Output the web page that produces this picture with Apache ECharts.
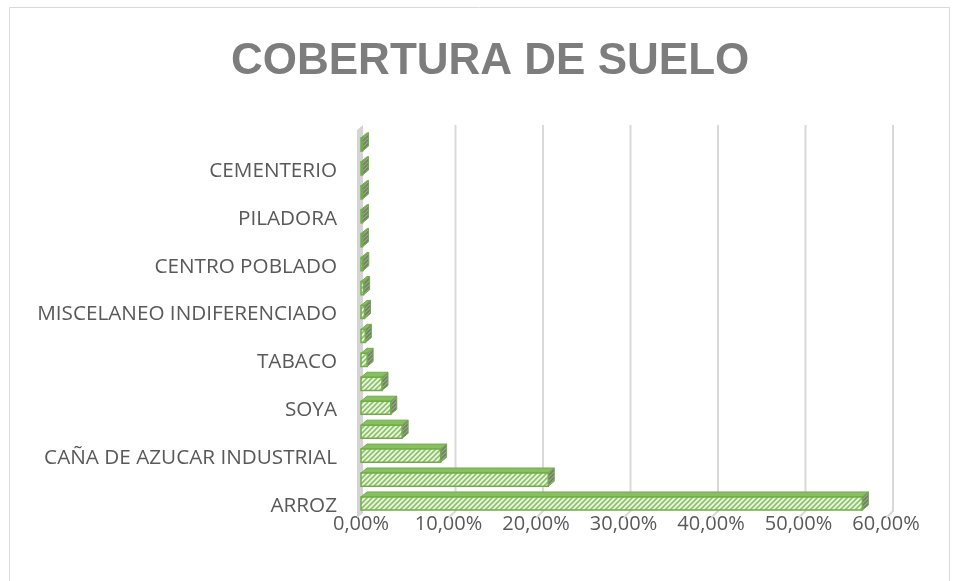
<!DOCTYPE html>
<html>
<head>
<meta charset="utf-8">
<script src="https://cdn.jsdelivr.net/npm/echarts@6/dist/echarts.min.js"></script>
<style>
  html, body { margin: 0; padding: 0; background: #fff; }
  #container { width: 957px; height: 581px; }
</style>
</head>
<body>
<div id="container"></div>
<script>
// categories, bottom to top (only every other one carries a visible label)
var categorias = ['ARROZ', 'PASTOS', 'CAÑA DE AZUCAR INDUSTRIAL', 'MAIZ', 'SOYA', 'FRUTALES',
  'TABACO', 'CUERPO DE AGUA', 'MISCELANEO INDIFERENCIADO', 'VIAS', 'CENTRO POBLADO',
  'GALPONES', 'PILADORA', 'PLATANO', 'CEMENTERIO', 'ESCUELA'];
// percentages
var porcentajes = [57.3, 21.4, 9.1, 4.7, 3.4, 2.4, 0.7, 0.5, 0.4, 0.3, 0.2, 0.1, 0.1, 0.1, 0.1, 0.1];
var ticks = [0, 10, 20, 30, 40, 50, 60];

// hatch pattern for the bar faces
function hatch(bg, fg, size) {
  var c = document.createElement('canvas');
  c.width = size; c.height = size;
  var g = c.getContext('2d');
  g.fillStyle = bg;
  g.fillRect(0, 0, size, size);
  g.strokeStyle = fg;
  g.lineWidth = 1.6;
  g.beginPath();
  g.moveTo(-1, size + 1); g.lineTo(size + 1, -1);
  g.moveTo(-1, 1); g.lineTo(1, -1);
  g.moveTo(size - 1, size + 1); g.lineTo(size + 1, size - 1);
  g.stroke();
  return c;
}
var frontPat = { image: hatch('#eaf4e2', '#8cc167', 5), repeat: 'repeat' };
var sidePat = { image: hatch('#9aa68f', '#6e8160', 4), repeat: 'repeat' };

var dom = document.getElementById('container');
var myChart = echarts.init(dom);

function renderGrid(params, api) {
  var cs = params.coordSys;
  var v = api.value(0);
  var x = api.coord([v, 0])[0];
  var top = cs.y, bot = cs.y + cs.height;
  if (v === 0) {
    return {
      type: 'polygon',
      shape: { points: [[x - 4, top - 1], [x + 2, top - 6], [x + 2, bot - 1], [x - 4, bot + 4]] },
      style: { fill: '#d4d4d4', stroke: null }
    };
  }
  return {
    type: 'polyline',
    shape: { points: [[x + 7, top - 6], [x + 7, bot - 3], [x, bot + 4]] },
    style: { stroke: '#d9d9d9', lineWidth: 2, fill: null }
  };
}

function renderBar(params, api) {
  var v = api.value(0), idx = api.value(1);
  var p0 = api.coord([0, idx]);
  var p1 = api.coord([v, idx]);
  var bh = api.size([0, 1])[1] * 0.55;
  var x = p0[0], w = Math.max(p1[0] - p0[0], 1.5), y = p0[1] - bh / 2 + 1.5;
  var dx = 6, dy = -5;
  return {
    type: 'group',
    children: [
      {
        type: 'polygon',
        shape: { points: [[x, y], [x + w, y], [x + w + dx, y + dy], [x + dx, y + dy]] },
        style: { fill: '#88bf63', stroke: '#70ad47', lineWidth: 1 }
      },
      {
        type: 'polygon',
        shape: { points: [[x + w, y], [x + w + dx, y + dy], [x + w + dx, y + dy + bh], [x + w, y + bh]] },
        style: { fill: sidePat, stroke: '#70ad47', lineWidth: 1 }
      },
      {
        type: 'rect',
        shape: { x: x, y: y, width: w, height: bh },
        style: { fill: frontPat, stroke: '#70ad47', lineWidth: 1.5 }
      }
    ]
  };
}

var option = {
  backgroundColor: '#fff',
  animation: false,
  title: {
    text: 'COBERTURA DE SUELO',
    left: 226,
    top: 35,
    textStyle: {
      fontFamily: 'Liberation Sans',
      fontWeight: 'bold',
      fontSize: 44,
      lineHeight: 44,
      color: '#7d7d7d'
    }
  },
  graphic: [{
    type: 'rect',
    shape: { x: 9.5, y: 7.5, width: 940, height: 580 },
    style: { fill: null, stroke: '#d9d9d9', lineWidth: 1 },
    silent: true
  }],
  grid: { left: 361, right: 71, top: 131, bottom: 67 },
  xAxis: {
    type: 'value',
    min: 0,
    max: 60,
    interval: 10,
    axisLine: { show: false },
    axisTick: { show: false },
    splitLine: { show: false },
    axisLabel: {
      margin: 0,
      fontFamily: 'Open Sans',
      fontSize: 20,
      color: '#595959',
      formatter: function (v) { return v.toFixed(2).replace('.', ',') + '%'; }
    }
  },
  yAxis: {
    type: 'category',
    data: categorias,
    axisLine: { show: false },
    axisTick: { show: false },
    splitLine: { show: false },
    axisLabel: {
      interval: 1,
      margin: 24,
      verticalAlign: 'top',
      lineHeight: 8,
      fontFamily: 'Open Sans',
      fontSize: 20.7,
      color: '#595959'
    }
  },
  series: [
    {
      type: 'custom',
      name: 'grid3d',
      silent: true,
      z: 1,
      data: ticks.map(function (t) { return [t]; }),
      encode: { x: 0 },
      renderItem: renderGrid
    },
    {
      type: 'custom',
      name: 'Cobertura',
      z: 2,
      data: porcentajes.map(function (p, i) { return [p, i]; }),
      encode: { x: 0, y: 1 },
      renderItem: renderBar
    }
  ]
};
if (option && typeof option === 'object') {
  myChart.setOption(option, true);
}
</script>
</body>
</html>
